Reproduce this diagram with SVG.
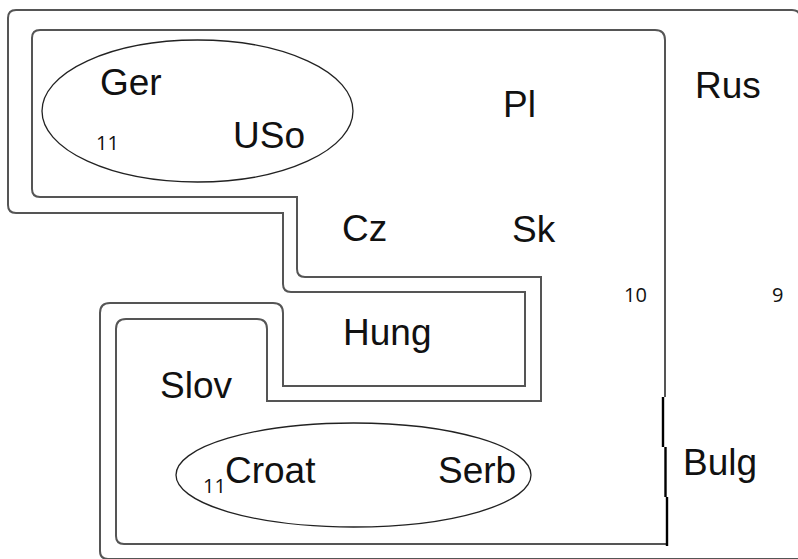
<svg xmlns="http://www.w3.org/2000/svg" width="798" height="559" viewBox="0 0 798 559">
<style>
.contour{fill:none;stroke:#555;stroke-width:2}
.ell{fill:none;stroke:#222;stroke-width:1.3}
.lbl{font-family:"Liberation Sans",Arial,sans-serif;font-size:37px;fill:#111}
.num{font-family:"Open Sans","Liberation Sans",sans-serif;font-size:20px;fill:#111}
.bulgline{fill:none;stroke:#000;stroke-width:2.4}
</style>
<rect width="798" height="559" fill="#fff"/>
<g id="region-9">
<path class="contour" d="M16,10 H792 Q800,10 800,18 V559 H108 Q100,559 100,551 V313 Q100,303 110,303 H273 Q283,303 283,313 V386 H525 V292 H291 Q283,292 283,284 V213 H16 Q8,213 8,205 V18 Q8,10 16,10 Z"/>
<text class="num" x="772" y="302">9</text>
<text class="lbl" x="695" y="98">Rus</text>
<text class="lbl" x="683" y="475">Bulg</text>
</g>
<g id="region-10">
<path class="contour" d="M665,397 V40 Q665,30 655,30 H40 Q32,30 32,38 V189 Q32,197 40,197 H297 V269 Q297,277 305,277 H541 V401 H267 V329 Q267,319 257,319 H126 Q116,319 116,329 V536 Q116,544 124,544 H667"/>
<path class="bulgline" d="M663,397 V447 M665.5,447 V497 M667,497 V546"/>
<text class="num" x="624" y="302">10</text>
<text class="lbl" x="503" y="117">Pl</text>
<text class="lbl" x="342" y="241">Cz</text>
<text class="lbl" x="512" y="242">Sk</text>
<text class="lbl" x="160" y="398">Slov</text>
</g>
<g id="hung">
<text class="lbl" x="343" y="345">Hung</text>
</g>
<g id="region-11-north">
<ellipse class="ell" cx="197.5" cy="111" rx="155.5" ry="71"/>
<text class="lbl" x="100" y="95">Ger</text>
<text class="lbl" x="233" y="148">USo</text>
<text class="num" x="96" y="150">11</text>
</g>
<g id="region-11-south">
<ellipse class="ell" cx="353.5" cy="475" rx="177.5" ry="52"/>
<text class="lbl" x="225" y="483">Croat</text>
<text class="lbl" x="438" y="483">Serb</text>
<text class="num" x="203" y="493">11</text>
</g>
<g id="connectors"></g>
</svg>
